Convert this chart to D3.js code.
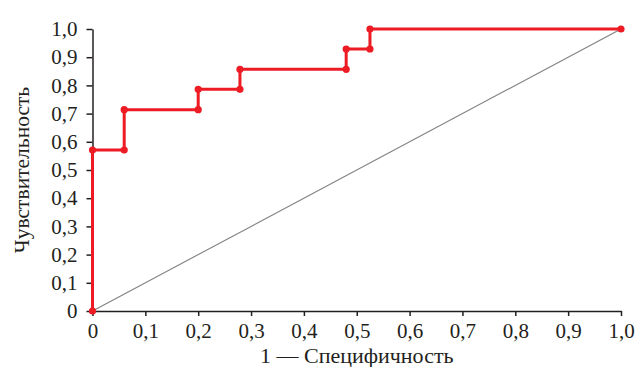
<!DOCTYPE html>
<html>
<head>
<meta charset="utf-8">
<script src="https://cdn.jsdelivr.net/npm/d3@7"></script>
<style>
  body { margin: 0; background: #fff; }
  svg text { font-family: "Liberation Serif", "Times New Roman", serif; fill: #231f20; }
</style>
</head>
<body>
<div id="chart"></div>
<script>
// ROC curve points (1 - specificity, sensitivity)
const fpr = [0, 0, 0.06, 0.06, 0.2, 0.2, 0.279, 0.279, 0.48, 0.48, 0.525, 0.525, 1];
const tpr = [0, 0.571, 0.571, 0.714, 0.714, 0.786, 0.786, 0.857, 0.857, 0.929, 0.929, 1, 1];
const tickValues = [0, 0.1, 0.2, 0.3, 0.4, 0.5, 0.6, 0.7, 0.8, 0.9, 1.0];
const tickLabels = ["0", "0,1", "0,2", "0,3", "0,4", "0,5", "0,6", "0,7", "0,8", "0,9", "1,0"];
const xTitle = "1 — Специфичность";
const yTitle = "Чувствительность";

const w = 638, h = 367;
const margin = {left: 92.5, right: 17, top: 29, bottom: 56};

const svg = d3.select("#chart").append("svg")
    .attr("width", w).attr("height", h);

const x = d3.scaleLinear().domain([0, 1]).range([margin.left, w - margin.right]);
const y = d3.scaleLinear().domain([0, 1]).range([h - margin.bottom, margin.top]);

// diagonal reference line
svg.append("line")
    .attr("x1", x(0)).attr("y1", y(0))
    .attr("x2", x(1)).attr("y2", y(1))
    .attr("stroke", "#808080").attr("stroke-width", 1.1);

// axes
const xAxis = svg.append("g")
    .attr("transform", `translate(0,${y(0)})`)
    .call(d3.axisBottom(x).tickValues(tickValues)
        .tickFormat((d, i) => tickLabels[i]).tickSizeInner(5).tickSizeOuter(0).tickPadding(7));
const yAxis = svg.append("g")
    .attr("transform", `translate(${x(0)},0)`)
    .call(d3.axisLeft(y).tickValues(tickValues)
        .tickFormat((d, i) => tickLabels[i]).tickSizeInner(6).tickSizeOuter(0).tickPadding(9));

[xAxis, yAxis].forEach(g => {
    g.selectAll("path, line").attr("stroke", "#231f20").attr("stroke-width", 1.5);
    g.selectAll("text").attr("font-size", 21).attr("font-family", "Liberation Serif");
});

// ROC curve
const pts = fpr.map((v, i) => ({x: v, y: tpr[i]}));
svg.append("path")
    .datum(pts)
    .attr("fill", "none")
    .attr("stroke", "#ed1c24")
    .attr("stroke-width", 3)
    .attr("d", d3.line().x(d => x(d.x)).y(d => y(d.y)));

svg.selectAll("circle.pt").data(pts).enter().append("circle")
    .attr("class", "pt")
    .attr("cx", d => x(d.x)).attr("cy", d => y(d.y))
    .attr("r", 3.6).attr("fill", "#ed1c24");

// titles
svg.append("text")
    .attr("x", (x(0) + x(1)) / 2).attr("y", 363)
    .attr("text-anchor", "middle").attr("font-size", 22)
    .text(xTitle);
svg.append("text")
    .attr("transform", `translate(29,${(y(0) + y(1)) / 2}) rotate(-90)`)
    .attr("text-anchor", "middle").attr("font-size", 21.5)
    .text(yTitle);
</script>
</body>
</html>
